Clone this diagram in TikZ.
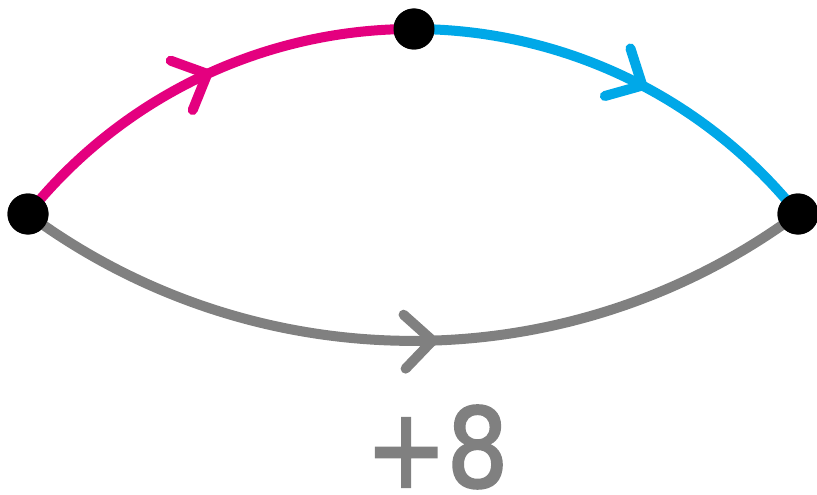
\documentclass[tikz,border=0pt]{standalone}
\usepackage{fontspec}
\setmainfont{DejaVu Sans}
\newfontfamily\lblfont[FakeBold=2.2]{DejaVu Sans}
\usetikzlibrary{arrows.meta,decorations.markings}
\definecolor{mag}{RGB}{228,0,127}
\definecolor{cyn}{RGB}{0,168,232}
\definecolor{gry}{RGB}{128,128,128}
\tikzset{
  vtx/.style={circle,fill=black,minimum size=41pt,inner sep=0pt},
  edgeline/.style={line width=10pt,line cap=round},
  midarrow/.style={postaction={decorate},decoration={markings,
     mark=at position #1 with {\arrow[line width=10pt]{Straight Barb[length=28pt,width=54pt,line cap=round,line join=round]}}}},
  lbl/.style={text=gry,font=\lblfont\fontsize{110}{110}\selectfont,inner sep=0pt}
}
\begin{document}
\begin{tikzpicture}[x=1pt,y=-1pt]
\useasboundingbox (0,0) rectangle (817,495);
\node[vtx] (L) at (28,214) {};
\node[vtx] (T) at (414,29) {};
\node[vtx] (R) at (798,214) {};
\draw[edgeline,mag,midarrow=0.53] (L.center) arc[start angle=218.66, end angle=270.1, radius=493];
\draw[edgeline,cyn,midarrow=0.55] (T.center) arc[start angle=270.1, end angle=321.34, radius=493];
\draw[edgeline,gry,midarrow=0.53] (L.center) arc[start angle=126.5, end angle=53.5, radius=647];
\node[vtx] at (L) {};
\node[vtx] at (T) {};
\node[vtx] at (R) {};
\node[lbl,anchor=base] (w) at (437,487) {\scalebox{0.88}[1]{+8}};
\end{tikzpicture}
\end{document}
